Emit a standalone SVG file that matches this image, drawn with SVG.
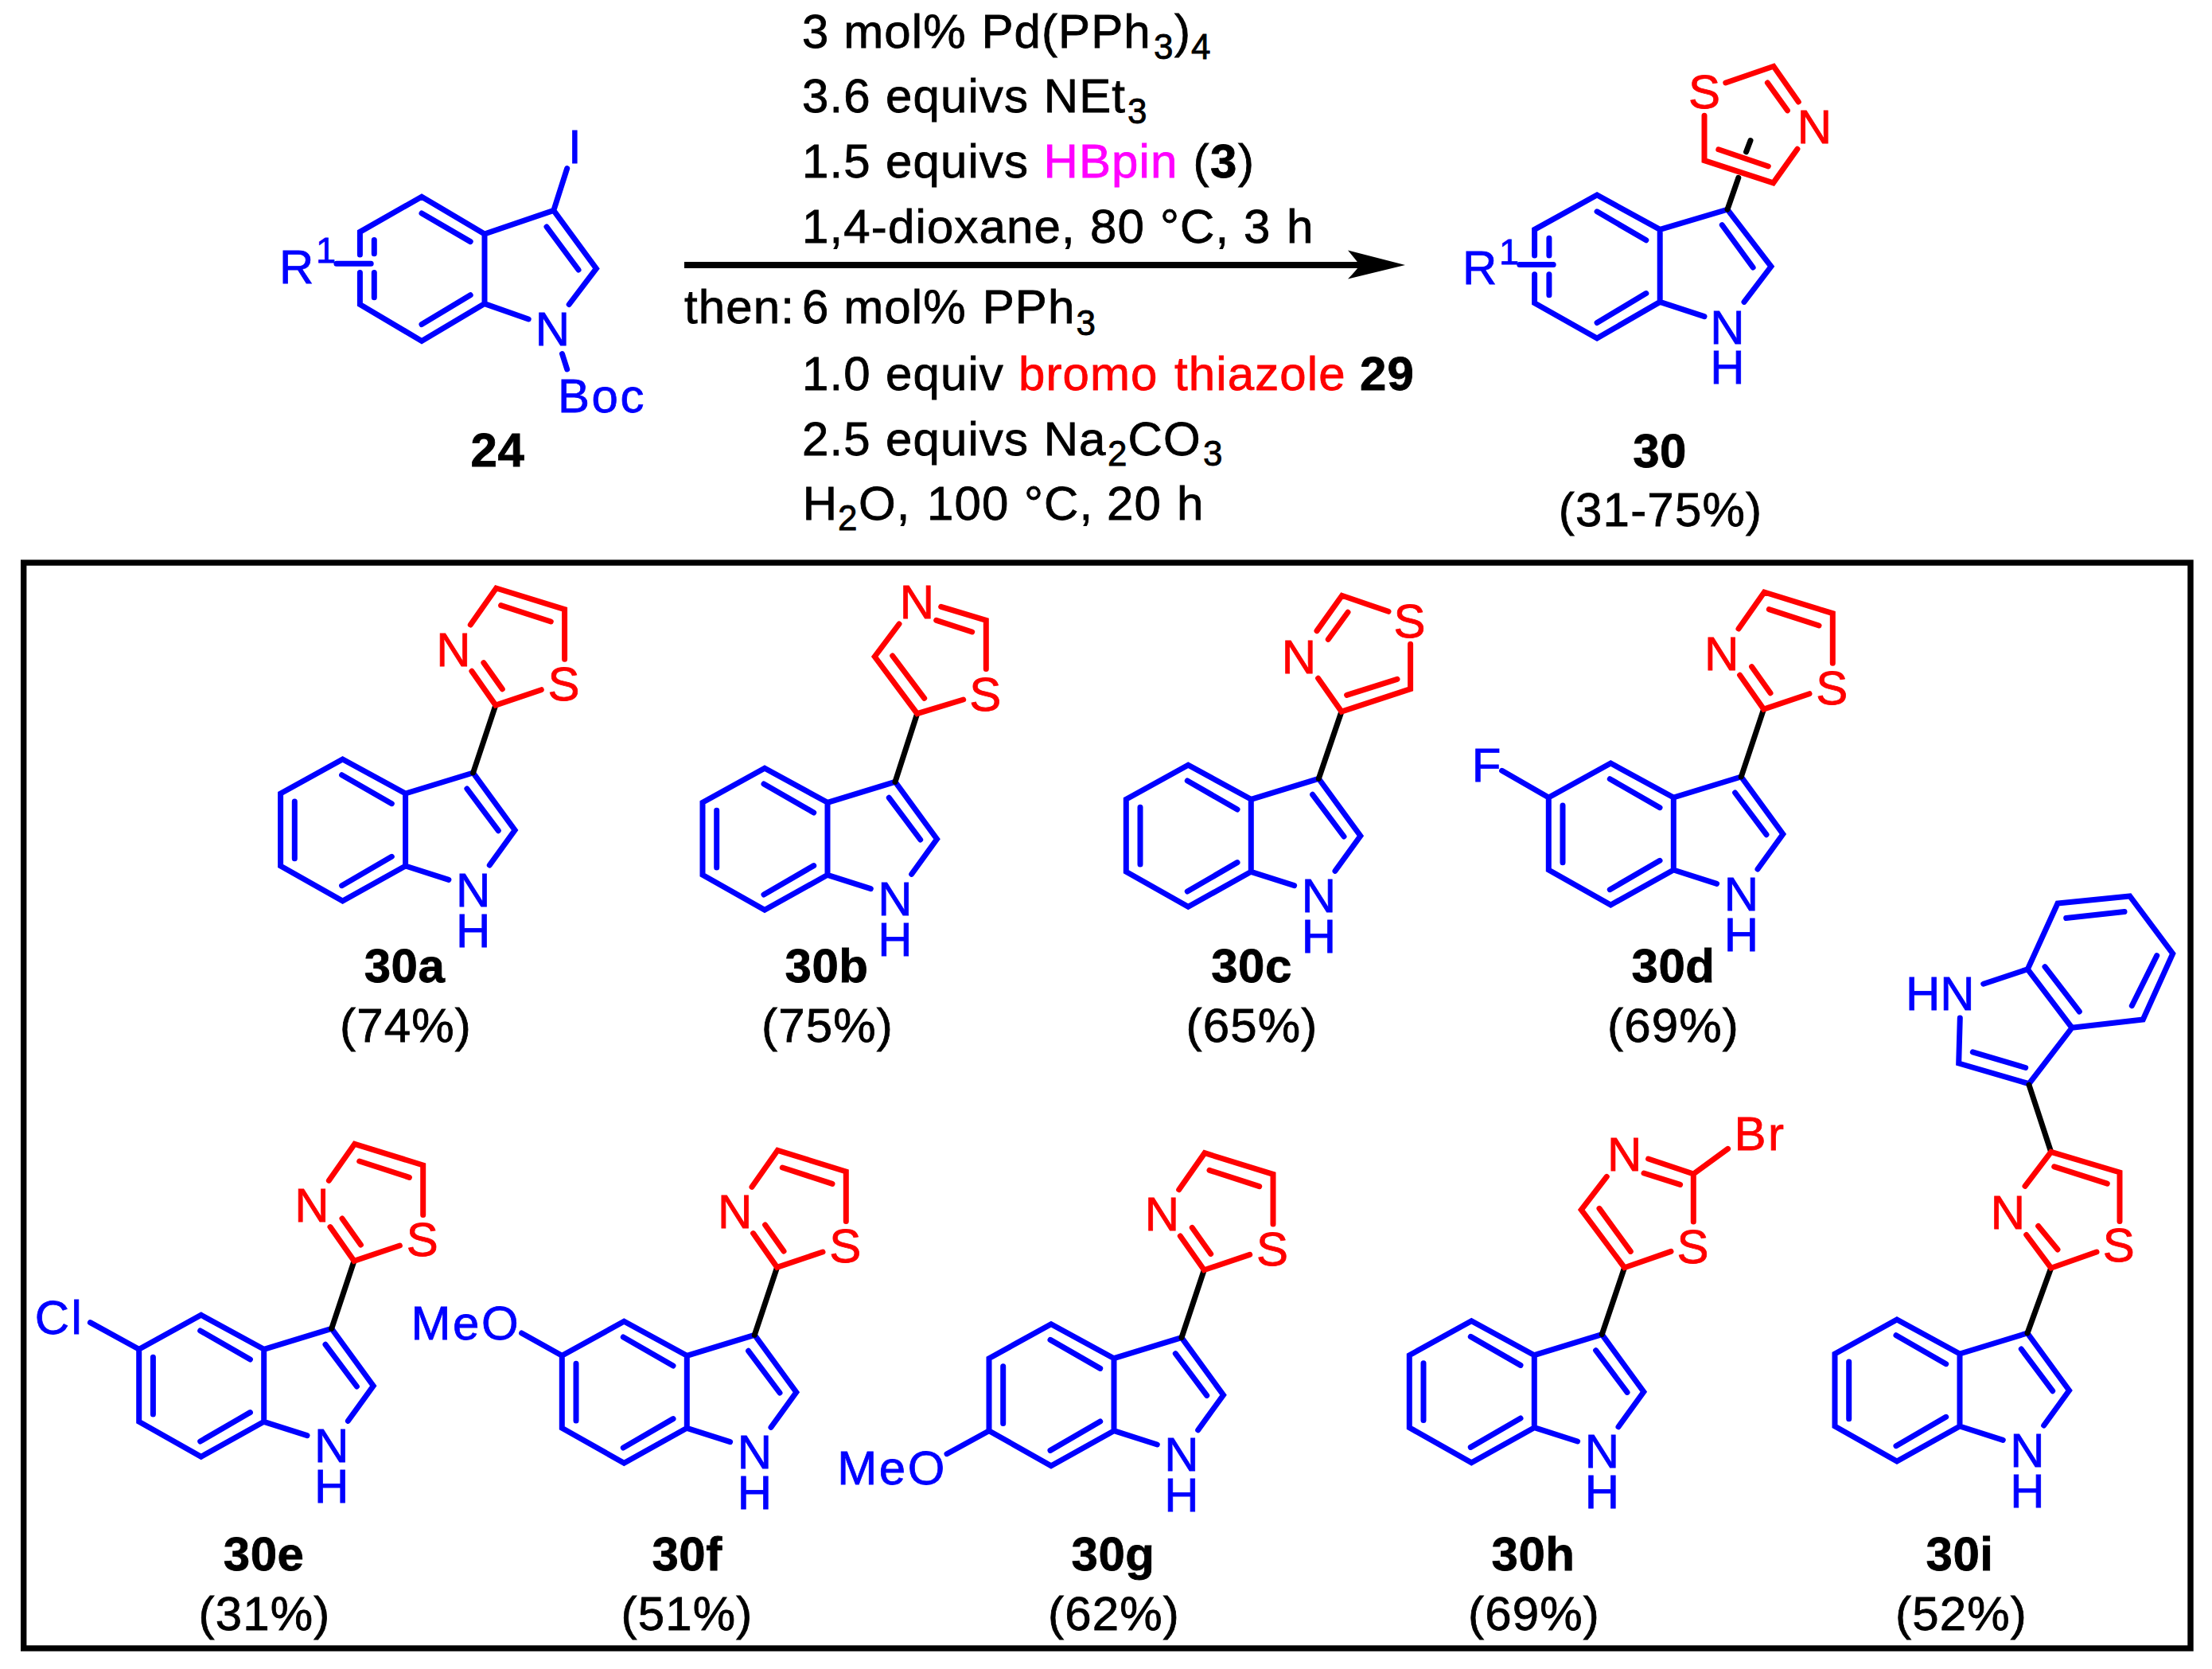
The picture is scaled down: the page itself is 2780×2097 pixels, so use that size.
<svg xmlns="http://www.w3.org/2000/svg" width="2780" height="2097" viewBox="0 0 2780 2097">
<style>
text{font-family:"Liberation Sans",Arial,sans-serif;font-size:60px;fill:#000;stroke:#000;stroke-width:.8px}
.t{letter-spacing:1.1px}
.bl{fill:#0000ff;stroke:#0000ff;text-anchor:middle}
.blf{fill:#0000ff;stroke:#0000ff}
.rd{fill:#ff0000;stroke:#ff0000;text-anchor:middle}
.rdf{fill:#ff0000;stroke:#ff0000}
.mg{fill:#ff00ff;stroke:#ff00ff}
.lab{font-weight:700;text-anchor:middle;letter-spacing:.5px}
.yl{text-anchor:middle;letter-spacing:1.2px}
.b{font-weight:700}
.sub{font-size:44px}
.sup{font-size:45px}
.ls{letter-spacing:2.5px}
.sb,.sr,.sk{fill:none;stroke-width:7;stroke-linecap:round;stroke-linejoin:miter;stroke-miterlimit:6}
.sb{stroke:#0000ff}
.sr{stroke:#ff0000}
.sk{stroke:#000}
</style>
<defs>
<marker id="arrowhead" markerUnits="userSpaceOnUse" markerWidth="72" markerHeight="37" refX="17" refY="18.6" orient="auto" viewBox="0 0 72 37"><path d="M0 0 Q10 12 15 18.6 Q10 26 0 36 L72 18.6 Z" fill="#000"/></marker>
<g id="indole">
<path class="sb" d="M-85 26L-164 -17L-242 26L-242 117L-164 161L-85 117Z M-85 26L0 0L52.5 72L20.7 116 M-85 117L-30.7 134.3 M-165 2.7L-102.3 38.7 M-224.3 36L-224.3 107.7 M-165 141.7L-102.3 105.3 M-7.7 20L31.7 72.7"/>
</g>
<g id="thzA">
<path class="sk" d="M0 0L28.3 -85"/>
<path class="sr" d="M-1.7 -127.7L28.3 -85L85.7 -104.3 M13.3 -138.3L36.7 -105.3 M-3.3 -186L29 -232L115 -205.3L115 -142.7 M35 -210.3L97.7 -190"/>
</g>
</defs>

<rect id="frame" x="29.7" y="707" width="2723.3" height="1364" fill="none" stroke="#000" stroke-width="7.4"/>

<g id="connectors">
<line x1="860" y1="333" x2="1711" y2="333" stroke="#000" stroke-width="8" marker-end="url(#arrowhead)"/>
</g>

<g id="conditions">
<text class="t" y="59.5"><tspan x="1008">3 mol% </tspan><tspan x="1233.4">Pd(PPh</tspan><tspan class="sub" x="1450" y="73.5">3</tspan><tspan x="1476" y="59.5">)</tspan><tspan class="sub" x="1497" y="73.5">4</tspan></text>
<text class="t" y="141"><tspan x="1008">3.6 </tspan><tspan x="1113">equivs </tspan><tspan x="1311.8">NEt</tspan><tspan class="sub" x="1417" y="155">3</tspan></text>
<text class="t" y="222.5"><tspan x="1008">1.5 </tspan><tspan x="1113">equivs </tspan><tspan class="mg" x="1311.5">HBpin </tspan><tspan x="1499.5">(</tspan><tspan class="b" x="1521">3</tspan><tspan x="1556">)</tspan></text>
<text class="t" y="305"><tspan x="1008">1,4-</tspan><tspan x="1116">dioxane, </tspan><tspan x="1370">80 </tspan><tspan x="1458">°C, </tspan><tspan x="1563">3 </tspan><tspan x="1617">h</tspan></text>
<text class="t" x="860" y="406">then:</text>
<text class="t" y="406"><tspan x="1008">6 mol% </tspan><tspan x="1234.7">PPh</tspan><tspan class="sub" x="1352.5" y="420.5">3</tspan></text>
<text class="t" y="490"><tspan x="1008">1.0 </tspan><tspan x="1113">equiv </tspan><tspan class="rdf" x="1280">bromo </tspan><tspan class="rdf" x="1476">thiazole </tspan><tspan class="b" x="1709">29</tspan></text>
<text class="t" y="571.5"><tspan x="1008">2.5 </tspan><tspan x="1113">equivs </tspan><tspan x="1311.7">Na</tspan><tspan class="sub" x="1392" y="584.6">2</tspan><tspan x="1417.5" y="571.5">CO</tspan><tspan class="sub" x="1512" y="584.6">3</tspan></text>
<text class="t" y="652.6"><tspan x="1008.7">H</tspan><tspan class="sub" x="1053" y="666">2</tspan><tspan x="1079" y="652.6">O, </tspan><tspan x="1165">100 </tspan><tspan x="1287">°C, </tspan><tspan x="1391">20 </tspan><tspan x="1479">h</tspan></text>
</g>

<g id="mol-24">
<path class="sb" d="M609 294L530 247.2L452.4 291.4L452.4 320 M452.4 342.6L452.4 382.5L530 428.4L609 381.6L609 294L695.8 264.5L749.4 337.4L715.2 382.5 M609 381.6L664.2 401 M530 268L591.2 303.6 M530 407.6L591.2 370.8 M687 285L727 339 M470.3 301.4L470.3 318.7 M470.3 342.6L470.3 373.8 M422.9 331.3L466.2 331.3 M695.8 264.5L712.7 211.6 M706.5 444.5L712.7 464"/>
<text class="blf" x="351" y="355.6">R</text><text class="blf sup" x="397" y="329.6">1</text>
<text class="bl" x="722.3" y="204.7">I</text>
<text class="bl" x="694.3" y="433.6">N</text>
<text class="blf ls" x="701" y="518">Boc</text>
<text class="lab" x="625.4" y="586">24</text>
</g>

<g id="mol-30">
<path class="sb" d="M2086.2 288.4L2007.1 245L1928.6 288.4L1928.6 320.9 M1928.6 344.8L1928.6 380.7L2007.1 425L2086.2 379.4L2086.2 288.4L2171 263.2L2225.9 334.8L2192 379.4 M2086.2 379.4L2142 397.7 M2007.1 265.8L2068.8 301.8 M2007.1 405.5L2068.8 368.6 M2164.3 282.7L2203.1 336 M1946.9 299.2L1946.9 320.9 M1946.9 344.8L1946.9 370.8 M1909.8 332.6L1952.2 332.6"/>
<path class="sk" d="M2171 263.2L2184.8 223.3 M2194.6 190.8L2200 176.5"/>
<path class="sr" d="M2168.8 104L2229 83.3L2260.3 128 M2221.4 104L2246.4 138.8 M2258.9 187.3L2228.6 229.8L2142 201.6L2142 145.3 M2159.8 187.8L2222.3 209"/>
<text class="blf" x="1838" y="356.5">R</text><text class="blf sup" x="1884" y="331.7">1</text>
<text class="bl" x="2171" y="431.5">N</text><text class="bl" x="2171" y="482.2">H</text>
<text class="rd" x="2142" y="136">S</text><text class="rd" x="2280.4" y="180">N</text>
<text class="lab" x="2086" y="587">30</text>
<text class="yl" x="2087" y="661">(31-75%)</text>
</g>

<g id="mol-30a">
<g transform="translate(594.6 971)"><use href="#indole"/><use href="#thzA"/>
<text class="bl" y="167.7">N</text><text class="bl" y="218.7">H</text>
<text class="rd" x="-24.7" y="-134.3">N</text><text class="rd" x="114" y="-91">S</text></g>
<text class="lab" x="508.5" y="1234">30a</text><text class="yl" x="510" y="1309">(74%)</text>
</g>

<g id="mol-30b">
<g transform="translate(1125 982.3)"><use href="#indole"/>
<path class="sk" d="M0 0L27.7 -85.7"/>
<path class="sr" d="M5 -198.3L-25.7 -157.3L27.7 -85.7L85.7 -103.3 M36.7 -105L-3.3 -158.3 M57.7 -220L114.3 -203L114.3 -141.7 M51.7 -203L96.7 -188.3"/>
<text class="bl" y="167.7">N</text><text class="bl" y="218.7">H</text>
<text class="rd" x="27.3" y="-205.7">N</text><text class="rd" x="113.3" y="-89">S</text></g>
<text class="lab" x="1039" y="1234">30b</text><text class="yl" x="1040" y="1309">(75%)</text>
</g>

<g id="mol-30c">
<g transform="translate(1657.3 978.3)"><use href="#indole"/>
<path class="sk" d="M0 0L28.7 -84.3"/>
<path class="sr" d="M-0.7 -126L28.7 -84.3L115.3 -112.7L115.3 -169 M35.3 -105L98.7 -125 M-2.3 -185.7L29.3 -230L87.7 -210 M12 -175L36.7 -209"/>
<text class="bl" y="167.7">N</text><text class="bl" y="218.7">H</text>
<text class="rd" x="-25" y="-132.3">N</text><text class="rd" x="114.3" y="-177.7">S</text></g>
<text class="lab" x="1573" y="1234">30c</text><text class="yl" x="1573.5" y="1309">(65%)</text>
</g>

<g id="mol-30d">
<g transform="translate(2188.3 976)"><use href="#indole"/><use href="#thzA"/>
<path class="sb" d="M-242 26L-300.7 -7.7"/>
<text class="blf" x="-338.6" y="5.7">F</text>
<text class="bl" y="167.7">N</text><text class="bl" y="218.7">H</text>
<text class="rd" x="-24.7" y="-134.3">N</text><text class="rd" x="114" y="-91">S</text></g>
<text class="lab" x="2103" y="1234">30d</text><text class="yl" x="2103" y="1309">(69%)</text>
</g>

<g id="mol-30e">
<g transform="translate(416.7 1669.3)"><use href="#indole"/><use href="#thzA"/>
<path class="sb" d="M-242 26L-303.3 -7.7"/>
<text class="blf ls" x="-373" y="6.3">Cl</text>
<text class="bl" y="167.7">N</text><text class="bl" y="218.7">H</text>
<text class="rd" x="-24.7" y="-134.3">N</text><text class="rd" x="114" y="-91">S</text></g>
<text class="lab" x="331.6" y="1973">30e</text><text class="yl" x="332.5" y="2048">(31%)</text>
</g>

<g id="mol-30f">
<g transform="translate(948.3 1677.3)"><use href="#indole"/><use href="#thzA"/>
<path class="sb" d="M-242 26L-292.7 -2.3"/>
<text class="blf ls" x="-431.7" y="6">MeO</text>
<text class="bl" y="167.7">N</text><text class="bl" y="218.7">H</text>
<text class="rd" x="-24.7" y="-134.3">N</text><text class="rd" x="114" y="-91">S</text></g>
<text class="lab" x="863.5" y="1973">30f</text><text class="yl" x="863.5" y="2048">(51%)</text>
</g>

<g id="mol-30g">
<g transform="translate(1485 1680.7)"><use href="#indole"/><use href="#thzA"/>
<path class="sb" d="M-242 117L-295 146"/>
<text class="blf ls" x="-432.7" y="184.3">MeO</text>
<text class="bl" y="167.7">N</text><text class="bl" y="218.7">H</text>
<text class="rd" x="-24.7" y="-134.3">N</text><text class="rd" x="114" y="-91">S</text></g>
<text class="lab" x="1399" y="1973">30g</text><text class="yl" x="1400" y="2048">(62%)</text>
</g>

<g id="mol-30h">
<g transform="translate(2013.3 1676.7)"><use href="#indole"/>
<path class="sk" d="M0 0L28.3 -84"/>
<path class="sr" d="M6 -198.3L-26 -156.7L28.3 -84L86.7 -104.3 M36 -104.3L-3.3 -158.3 M58.3 -220.7L115 -201.7L115 -141.7 M52.7 -202.7L98.3 -188.3 M115 -201.7L158.3 -233.3"/>
<text class="bl" y="167.7">N</text><text class="bl" y="218.7">H</text>
<text class="rd" x="28.3" y="-206">N</text><text class="rd" x="114.3" y="-89.3">S</text>
<text class="rdf ls" x="166.3" y="-231.7">Br</text></g>
<text class="lab" x="1927" y="1973">30h</text><text class="yl" x="1928" y="2048">(69%)</text>
</g>

<g id="mol-30i">
<g transform="translate(2548 1675)"><use href="#indole"/>
<text class="bl" y="167.7">N</text><text class="bl" y="218.7">H</text></g>
<path class="sb" d="M2604 1291.3L2693.3 1280.9L2730.7 1198.2L2676.7 1125.9L2586 1135.1L2548.3 1217.8L2604 1291.3L2550 1361.7L2461.7 1336L2463.3 1279 M2548.3 1217.8L2492.7 1236.2 M2570 1214.7L2613.3 1271 M2679.3 1263.7L2710.7 1200.6 M2596.7 1153.5L2670 1145.5 M2479.3 1321.9L2545.7 1341.5"/>
<path class="sk" d="M2548 1675L2577.7 1593.2 M2550 1363L2577.7 1447.4"/>
<path class="sr" d="M2546.7 1551.5L2577.7 1593.2L2635 1573 M2561.7 1540.5L2586 1570 M2545 1490.3L2577.7 1447.4L2664 1473L2664 1534.4 M2581.7 1465.8L2648.3 1487.2"/>
<text class="blf" x="2395" y="1268.6">HN</text>
<text class="rd" x="2523.3" y="1543.6">N</text><text class="rd" x="2662.7" y="1585">S</text>
<text class="lab" x="2463" y="1973">30i</text><text class="yl" x="2465" y="2048">(52%)</text>
</g>
</svg>
